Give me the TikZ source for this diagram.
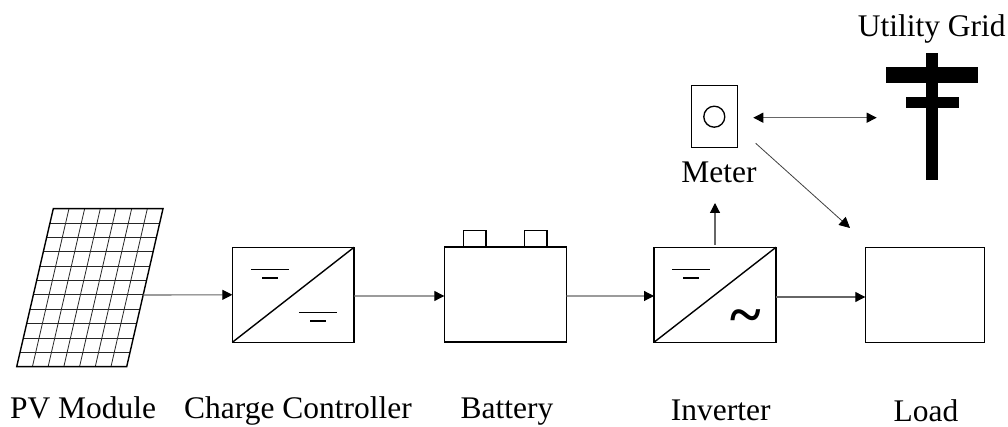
\documentclass[tikz,border=0pt]{standalone}
\usepackage{fontspec}
\setmainfont{Liberation Serif}
\usetikzlibrary{arrows.meta,calc}
\tikzset{
  box/.style={draw=black,line width=1pt,fill=white,inner sep=0pt,outer sep=0pt,minimum width=#1*0.75pt,minimum height=95*0.75pt},
  conn/.style={draw=black!60,line width=0.85pt,-{Triangle[length=7.5pt,width=7.5pt,color=black]}},
  thinconn/.style={draw=black!75,line width=0.6pt,-{Triangle[length=8pt,width=8pt,color=black]}},
  gridline/.style={draw=black!85,line width=0.6pt},
  frame/.style={draw=black,line width=1.05pt},
  barline/.style={draw=black,line width=0.95pt},
  pole/.style={fill=black,draw=none,inner sep=0pt,outer sep=0pt},
  lab/.style={anchor=base,inner sep=0pt,outer sep=0pt,font=\fontsize{23.6}{28}\selectfont},
  pics/groundsym/.style={code={
    \draw[barline] (-19,0) -- (19,0);
    \draw[barline] (-7.8,8.6) -- (7.8,8.6);
  }}
}
\begin{document}
\begin{tikzpicture}[x=0.75pt,y=-0.75pt]
\useasboundingbox[fill=white] (0,0) rectangle (1008,427);
% PV module
\coordinate (TL) at (53.3,208.7);
\coordinate (TR) at (163,208.7);
\coordinate (BR) at (126.7,366.7);
\coordinate (BL) at (16.7,366.7);
\coordinate (pvout) at (143,295);
\foreach \k in {1,...,10}
  \draw[gridline] ($(TL)!\k/11!(BL)$) -- ($(TR)!\k/11!(BR)$);
\foreach \k in {1,...,6}
  \draw[gridline] ($(TL)!\k/7!(TR)$) -- ($(BL)!\k/7!(BR)$);
\draw[frame] (TL) -- (TR) -- (BR) -- (BL) -- cycle;
% Boxes
\node[box=121.7] (charge) at (293.2,294.8) {};
\node[box=122] (battery) at (505.3,294.5) {};
\node[box=122] (inverter) at (715,294.8) {};
\node[box=119] (load) at (924.8,294.8) {};
% Battery terminals
\node[box=22.3,minimum height=16*0.75pt] (termA) at (474.9,238.7) {};
\node[box=22.7,minimum height=16*0.75pt] (termB) at (535.7,238.7) {};
% Diagonals
\draw[frame] (charge.south west) -- (charge.north east);
\draw[frame] (inverter.south west) -- (inverter.north east);
% DC / AC symbols
\pic at (270,269.3) {groundsym};
\pic at (317.8,312.5) {groundsym};
\pic at (691,269.3) {groundsym};
\node[inner sep=0pt,font=\fontsize{44}{44}\selectfont\bfseries] (acsym) at (745.7,322) {\char"007E};
% Meter
\node[draw=black,line width=1pt,inner sep=0pt,outer sep=0pt,minimum width=45.6*0.75pt,minimum height=62*0.75pt] (meter) at (714.5,116.7) {};
\node[draw=black,line width=1pt,circle,inner sep=0pt,outer sep=0pt,minimum size=21*0.75pt] (dial) at (714.3,116.7) {};
% Utility pole
\node[pole,minimum width=12.3*0.75pt,minimum height=127.6*0.75pt] (polev) at (932.15,116.5) {};
\node[pole,minimum width=92*0.75pt,minimum height=15.4*0.75pt] (poleA) at (931.7,75) {};
\node[pole,minimum width=52.7*0.75pt,minimum height=11.6*0.75pt] (poleB) at (932.35,102.5) {};
% Labels
\node[lab] (lpv) at (83,419) {PV Module};
\node[lab] (lcharge) at (298,419) {Charge Controller};
\node[lab] (lbattery) at (507,419) {Battery};
\node[lab] (linverter) at (720.7,421) {Inverter};
\node[lab] (lload) at (926,421.5) {Load};
\node[lab] (lmeter) at (719,183) {Meter};
\node[lab] (lgrid) at (931.7,37) {Utility Grid};
% Connectors
\draw[conn] (pvout) -- (charge.west);
\draw[conn] ([shift={(0,1.2)}]charge.east) -- ([shift={(0,1.5)}]battery.west);
\draw[conn] ([shift={(0,1.5)}]battery.east) -- ([shift={(0,1.2)}]inverter.west);
\draw[conn] ([shift={(0,2.2)}]inverter.east) -- ([shift={(0,2.2)}]load.west);
\draw[conn] ([shift={(0,-2.3)}]inverter.north) -- ([shift={(-4,20)}]lmeter.base);
\draw[conn,{Triangle[length=7.5pt,width=7.5pt,color=black]}-{Triangle[length=7.5pt,width=7.5pt,color=black]}] ([shift={(16,1)}]meter.east) -- ([shift={(-49.3,1.2)}]polev.west);
\draw[thinconn] ([shift={(18.4,-4.4)}]meter.south east) -- ([shift={(-15.3,-19.3)}]load.north west);
\end{tikzpicture}
\end{document}
